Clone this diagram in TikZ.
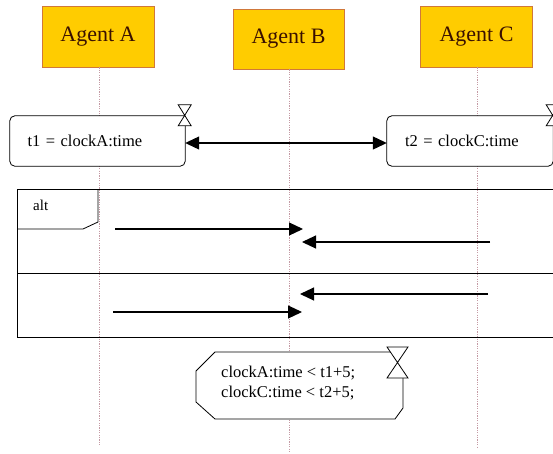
\documentclass[tikz,border=0pt]{standalone}
\usepackage{fontspec}
\setmainfont{Liberation Serif}
\usetikzlibrary{arrows.meta}
\definecolor{agentfill}{HTML}{FFCC00}
\definecolor{agentdraw}{HTML}{D0783A}
\definecolor{agenttext}{HTML}{3A1000}
\definecolor{lifecol}{HTML}{C49AA4}
\begin{document}
\begin{tikzpicture}[x=1pt,y=-1pt,
  agent/.style={draw=agentdraw, fill=agentfill, line width=0.8pt, minimum width=112pt, minimum height=61pt, inner sep=0pt, text=agenttext, font=\fontsize{22}{25}\selectfont},
  life/.style={lifecol, line width=1pt, dash pattern=on 1.2pt off 1.2pt},
  tbox/.style={minimum height=50pt, inner sep=0pt, font=\fontsize{16.5}{20}\selectfont, align=left},
  shapeline/.style={line width=0.8pt, fill=white},
  msg/.style={line width=1.1pt, -{Triangle[length=14pt,width=13pt]}},
  txt/.style={inner sep=0pt, font=\fontsize{16.5}{20}\selectfont, align=left}
]
\useasboundingbox (0,0) rectangle (553,453);
\clip (0,0) rectangle (553,453);
\fill[white] (0,0) rectangle (553,453);

% agents
\node[agent] (A) at (98,36.5) {Agent A};
\node[agent, minimum width=111pt, minimum height=60pt] (B) at (288.5,39) {Agent B};
\node[agent] (C) at (476.5,36.5) {Agent C};

% lifelines
\coordinate (Aend) at (99,445);
\coordinate (Bend) at (289,453);
\coordinate (Cend) at (477,447);
\draw[life] (A.south -| Aend) -- (Aend);
\draw[life] (B.south -| Bend) -- (Bend);
\draw[life] (C.south -| Cend) -- (Cend);

% time box A
\node[tbox, minimum width=175pt, text width=140pt] (tA) at (97.5,141) {t1 = clockA:time};
\draw[shapeline, rounded corners=5pt] (tA.north east) -- (tA.north west) -- (tA.south west) -- (tA.south east) -- ([yshift=-10pt]tA.north east);
\draw[shapeline] ([xshift=-7pt,yshift=11pt]tA.north east) -- ([xshift=6pt,yshift=11pt]tA.north east) -- ([xshift=-7pt,yshift=-10pt]tA.north east) -- ([xshift=6pt,yshift=-10pt]tA.north east) -- cycle;
\node[tbox, text width=140pt] at (97.5,141) {t1 = clockA:time};

% time box C
\node[tbox, minimum width=166pt, text width=130pt] (tC) at (470,141) {t2 = clockC:time};
\draw[shapeline, rounded corners=5pt] (tC.north east) -- (tC.north west) -- (tC.south west) -- (tC.south east) -- ([yshift=-10pt]tC.north east);
\draw[shapeline] ([xshift=-7pt,yshift=11pt]tC.north east) -- ([xshift=6pt,yshift=11pt]tC.north east) -- ([xshift=-7pt,yshift=-10pt]tC.north east) -- ([xshift=6pt,yshift=-10pt]tC.north east) -- cycle;
\node[tbox, text width=130pt] at (470,141) {t2 = clockC:time};

% double arrow between time boxes
\draw[line width=1.1pt, {Triangle[length=14pt,width=13pt]}-{Triangle[length=14pt,width=13pt]}] ([yshift=-2pt]tA.east) -- ([yshift=-2pt]tC.west);

% alt frame
\node[draw, line width=0.8pt, minimum width=545pt, minimum height=148pt, inner sep=0pt, anchor=north west] (alt) at (17,189) {};
\draw[line width=0.8pt] (alt.west |- 0,229) -- (83,229) -- (98,222) -- (98,189);
\node[txt, anchor=west, font=\fontsize{15}{18}\selectfont] (altlbl) at (33,205) {alt};
\draw[line width=0.8pt] (alt.west |- 0,273) -- (alt.east |- 0,273);

% messages
\coordinate (m1s) at (115,229); \coordinate (m1e) at (303,229);
\coordinate (m2s) at (490,242); \coordinate (m2e) at (302,242);
\coordinate (m3s) at (488,294); \coordinate (m3e) at (300,294);
\coordinate (m4s) at (113,312); \coordinate (m4e) at (302,312);
\draw[msg] (m1s) -- (m1e);
\draw[msg] (m2s) -- (m2e);
\draw[msg] (m3s) -- (m3e);
\draw[msg] (m4s) -- (m4e);

% constraint octagon
\draw[shapeline] (398,352) -- (215,352) -- (196,371) -- (196,402) -- (215,419) -- (395,419) -- (403,408) -- (403,378);
\draw[shapeline] (387,347) -- (408,347) -- (387,378) -- (408,378) -- cycle;
\node[txt, anchor=west] (cond) at (221,383) {clockA:time < t1+5;\\clockC:time < t2+5;};
\end{tikzpicture}
\end{document}
